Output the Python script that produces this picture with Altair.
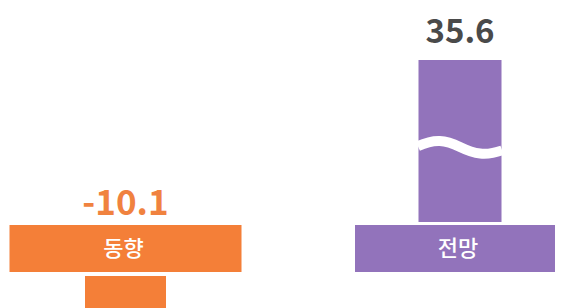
import altair as alt
import pandas as pd

# ---- data ----
categories = ["동향", "전망"]
values = [-10.1, 35.6]
value_labels = ["-10.1", "35.6"]
colors = ["#F47F38", "#9273BB"]

df = pd.DataFrame({"cat": categories, "value": values, "label": value_labels})

W, H = 547, 300
FONT = "Noto Sans CJK KR"

x = alt.X("cat:N", axis=None,
          scale=alt.Scale(type="point", domain=categories, range=[117.5, 452], padding=0))
y_scale = alt.Scale(domain=[-18.9, 47.03], nice=False, zero=False)
color = alt.Color("cat:N", legend=None, scale=alt.Scale(domain=categories, range=colors))
y_val = alt.Y("value:Q", scale=y_scale, axis=None)
y_zero = alt.Y("zero:Q", scale=y_scale, axis=None)

base = alt.Chart(df).transform_calculate(zero="0")

pos_bar = base.transform_filter("datum.value >= 0").mark_bar(width=83).encode(
    x=x, y=y_val, y2="zero:Q", color=color)

neg_bar = base.transform_filter("datum.value < 0").mark_bar(
    width=81, yOffset=54, y2Offset=54).encode(
    x=x, y=y_val, y2="zero:Q", color=color)

wave = base.transform_filter("datum.value >= 0").transform_calculate(
    brk="datum.value * 0.463").mark_point(
    shape="M-1,-0.02 C-0.6,-0.2 -0.35,-0.17 0,0 C0.35,0.17 0.6,0.22 1,0.08",
    size=7100, filled=False, color="white", stroke="white", strokeWidth=10,
    opacity=1).encode(x=x, y=alt.Y("brk:Q", scale=y_scale, axis=None))

box_left = base.transform_filter(alt.datum.cat == categories[0]).mark_tick(
    orient="horizontal", thickness=47, size=232, yOffset=26.5, opacity=1).encode(
    x=x, y=y_zero, color=color)
box_right = base.transform_filter(alt.datum.cat == categories[1]).mark_tick(
    orient="horizontal", thickness=47, size=210, yOffset=26.5, opacity=1).encode(
    x=x, y=y_zero, color=color)

box_text = base.mark_text(font=FONT, fontSize=22, fontWeight=500, color="white",
                          baseline="middle", dy=27, dx=-2).encode(
    x=x, y=y_zero, text="cat:N")

pos_label = base.transform_filter("datum.value >= 0").mark_text(
    font=FONT, fontSize=33, fontWeight="bold", color="#4a4a4a",
    baseline="alphabetic", dy=-17).encode(
    x=x, y=y_val, text="label:N")

neg_label = base.transform_filter("datum.value < 0").mark_text(
    font=FONT, fontSize=35, fontWeight="bold", color="#F0823F",
    baseline="alphabetic", dy=-7).encode(
    x=x, y=y_zero, text="label:N")

chart = alt.layer(
    pos_bar, neg_bar, wave, box_left, box_right, box_text, pos_label, neg_label
).properties(
    width=W, height=H, padding=0, autosize="none"
).configure_view(stroke=None)

chart.save("out.html", embed_options={"renderer": "svg", "actions": False})
